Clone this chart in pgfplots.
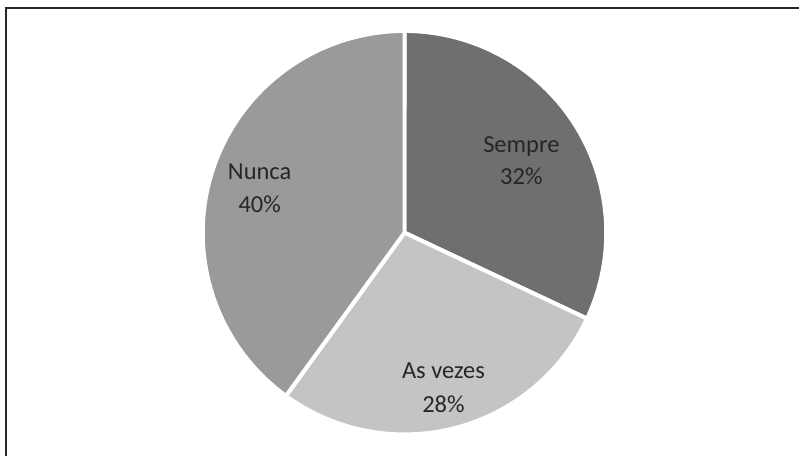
\documentclass[border=0pt]{standalone}
\usepackage{pgfplots}
\pgfplotsset{compat=1.18}
\usepackage{pgfplotstable}
\usepackage{fontspec}
\setmainfont{Carlito}
\definecolor{cSempre}{HTML}{6F6F6F}
\definecolor{cVezes}{HTML}{C4C4C4}
\definecolor{cNunca}{HTML}{9A9A9A}
\definecolor{txt}{HTML}{262626}
\pgfplotstableread{
label value
Sempre 32
Vezes 28
Nunca 40
}\piedata
\tikzset{lbl/.style={font=\fontsize{24.5bp}{29bp}\selectfont, text=txt, inner sep=0pt, anchor=base}}
\begin{document}
\begin{tikzpicture}
\pgfplotstablegetelem{0}{value}\of\piedata \let\vA\pgfplotsretval
\pgfplotstablegetelem{1}{value}\of\piedata \let\vB\pgfplotsretval
\pgfplotstablegetelem{2}{value}\of\piedata \let\vC\pgfplotsretval
\pgfmathsetmacro{\aA}{90}
\pgfmathsetmacro{\aB}{90-3.6*\vA}
\pgfmathsetmacro{\aC}{\aB-3.6*\vB}
\pgfmathsetmacro{\aD}{\aC-3.6*\vC}
\begin{axis}[x=1bp,y=1bp,xmin=0,xmax=800,ymin=0,ymax=457,
  hide axis, clip=false, scale only axis]
\path (axis cs:0,0) rectangle (axis cs:800,457);
\addplot[fill=cSempre, draw=white, line width=4bp, domain=\aB:\aA, samples=120, variable=\t]
  ({405+202*cos(\t)},{224+202*sin(\t)}) -- (axis cs:405,224) -- cycle;
\addplot[fill=cVezes, draw=white, line width=4bp, domain=\aC:\aB, samples=120, variable=\t]
  ({405+202*cos(\t)},{224+202*sin(\t)}) -- (axis cs:405,224) -- cycle;
\addplot[fill=cNunca, draw=white, line width=4bp, domain=\aD:\aC, samples=160, variable=\t]
  ({405+202*cos(\t)},{224+202*sin(\t)}) -- (axis cs:405,224) -- cycle;
\draw[line width=2bp, color=black!85] (axis cs:6.5,0) -- (axis cs:6.5,449) -- (axis cs:800,449);
\node[lbl] at (axis cs:522,304) {Sempre};
\node[lbl] at (axis cs:522,272) {32\%};
\node[lbl] at (axis cs:260,277) {Nunca};
\node[lbl] at (axis cs:260,244) {40\%};
\node[lbl] at (axis cs:444,78) {As vezes};
\node[lbl] at (axis cs:444,44) {28\%};
\end{axis}
\end{tikzpicture}
\end{document}
